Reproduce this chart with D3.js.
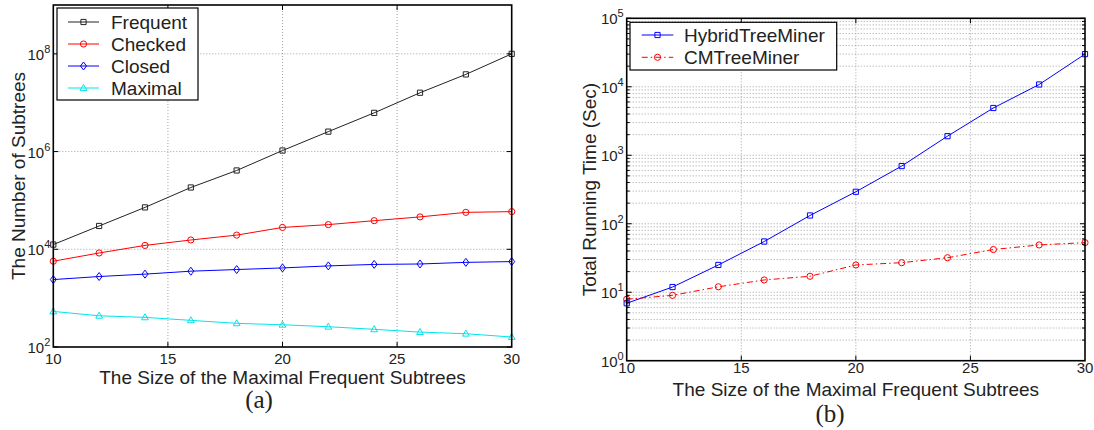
<!DOCTYPE html>
<html>
<head>
<meta charset="utf-8">
<script src="https://cdn.jsdelivr.net/npm/d3@7"></script>
<style>
  body { margin: 0; background: #fff; }
  svg { display: block; }
  text { font-family: "Liberation Sans", Arial, Helvetica, sans-serif; fill: #222; }
</style>
</head>
<body>
<svg id="fig" width="1094" height="430"></svg>
<script>
// Size of the maximal frequent subtrees (x axis of both panels)
const sizes = [10, 12, 14, 16, 18, 20, 22, 24, 26, 28, 30];

// Panel (a): number of subtrees
const frequent = [1.25e4, 3.0e4, 7.2e4, 1.84e5, 4.1e5, 1.05e6, 2.56e6, 6.2e6, 1.6e7, 3.8e7, 1.0e8];
const checked  = [5.7e3, 8.4e3, 1.2e4, 1.55e4, 1.95e4, 2.8e4, 3.2e4, 3.85e4, 4.6e4, 5.7e4, 5.9e4];
const closed   = [2.4e3, 2.77e3, 3.1e3, 3.56e3, 3.85e3, 4.15e3, 4.57e3, 4.9e3, 5.0e3, 5.4e3, 5.6e3];
const maximal  = [535, 435, 404, 351, 305, 285, 260, 230, 202, 187, 160];

// Panel (b): total running time in seconds
const hybridTreeMiner = [6.9, 11.9, 25, 55, 132, 293, 695, 1900, 4900, 10800, 30000];
const cmTreeMiner     = [7.9, 9.0, 12, 15.1, 17.1, 25, 27, 31.9, 42, 49, 53];

// Tick values
const xTicks = [10, 15, 20, 25, 30];
const yTicksA = [1e2, 1e4, 1e6, 1e8];
const yTicksB = [1e0, 1e1, 1e2, 1e3, 1e4, 1e5];

const svg = d3.select("#fig");

function symbolPath(kind) {
  if (kind === "square") return "M-2.6,-2.6H2.6V2.6H-2.6Z";
  if (kind === "circle") return d3.symbol(d3.symbolCircle, 30)();
  if (kind === "diamond") return "M0,-4L3,0L0,4L-3,0Z";
  if (kind === "triangle") return "M0,-3.6L3.4,2.4H-3.4Z";
  return "";
}

function drawPanel(cfg) {
  const g = svg.append("g");
  const x = d3.scaleLinear().domain([10, 30]).range([cfg.left, cfg.right]);
  const y = d3.scaleLog().domain(cfg.yDomain).range([cfg.bottom, cfg.top]);

  const grid = g.append("g")
    .attr("stroke", "#8a8a8a").attr("stroke-width", 0.8)
    .attr("stroke-dasharray", "1,2").attr("fill", "none");

  // minor horizontal grid (decade subdivisions)
  if (cfg.minor) {
    const minor = [];
    const [lo, hi] = cfg.yDomain;
    for (let d = lo; d < hi; d *= 10)
      for (let k = 2; k <= 9; k++) minor.push(d * k);
    grid.selectAll("line.mh").data(minor).join("line")
      .attr("x1", cfg.left).attr("x2", cfg.right)
      .attr("y1", d => y(d)).attr("y2", d => y(d));
  }
  grid.selectAll("line.h").data(cfg.yTicks.filter(v => v > cfg.yDomain[0] && v < cfg.yDomain[1])).join("line")
    .attr("x1", cfg.left).attr("x2", cfg.right)
    .attr("y1", d => y(d)).attr("y2", d => y(d));
  grid.selectAll("line.v").data(xTicks.slice(1, -1)).join("line")
    .attr("x1", d => x(d)).attr("x2", d => x(d))
    .attr("y1", cfg.top).attr("y2", cfg.bottom);

  // series
  cfg.series.forEach(s => {
    const pts = sizes.map((v, i) => [x(v), y(s.values[i])]);
    g.append("path")
      .attr("d", d3.line()(pts))
      .attr("fill", "none").attr("stroke", s.color).attr("stroke-width", 1)
      .attr("stroke-dasharray", s.dash || null);
    g.selectAll(null).data(pts).join("path")
      .attr("transform", d => `translate(${d[0]},${d[1]})`)
      .attr("d", symbolPath(s.marker))
      .attr("fill", "none").attr("stroke", s.color).attr("stroke-width", 1);
  });

  // ticks (inward, on all four sides)
  const ticks = g.append("g").attr("stroke", "#000").attr("stroke-width", 1);
  xTicks.slice(1, -1).forEach(v => {
    ticks.append("line").attr("x1", x(v)).attr("x2", x(v)).attr("y1", cfg.bottom).attr("y2", cfg.bottom - 5);
    ticks.append("line").attr("x1", x(v)).attr("x2", x(v)).attr("y1", cfg.top).attr("y2", cfg.top + 5);
  });
  cfg.yTicks.forEach(v => {
    ticks.append("line").attr("x1", cfg.left).attr("x2", cfg.left + 5).attr("y1", y(v)).attr("y2", y(v));
    ticks.append("line").attr("x1", cfg.right).attr("x2", cfg.right - 5).attr("y1", y(v)).attr("y2", y(v));
  });
  if (cfg.minor) {
    const [lo, hi] = cfg.yDomain;
    for (let d = lo; d < hi; d *= 10)
      for (let k = 2; k <= 9; k++) {
        const yy = y(d * k);
        ticks.append("line").attr("x1", cfg.left).attr("x2", cfg.left + 3).attr("y1", yy).attr("y2", yy);
        ticks.append("line").attr("x1", cfg.right).attr("x2", cfg.right - 3).attr("y1", yy).attr("y2", yy);
      }
  }

  // frame
  g.append("rect")
    .attr("x", cfg.left).attr("y", cfg.top)
    .attr("width", cfg.right - cfg.left).attr("height", cfg.bottom - cfg.top)
    .attr("fill", "none").attr("stroke", "#000").attr("stroke-width", 1.6);

  // x tick labels
  g.selectAll("text.xt").data(xTicks).join("text")
    .attr("x", d => x(d)).attr("y", cfg.bottom + cfg.xTickGap)
    .attr("text-anchor", "middle").attr("font-size", 15)
    .text(d => d);

  // y tick labels as 10 with superscript exponent
  cfg.yTicks.forEach(v => {
    const t = g.append("text")
      .attr("x", cfg.left - 3).attr("y", y(v) + 6)
      .attr("text-anchor", "end").attr("font-size", 15);
    t.append("tspan").text("10");
    t.append("tspan").attr("dy", -7).attr("font-size", 11).text(Math.round(Math.log10(v)));
  });

  // axis titles
  g.append("text")
    .attr("x", (cfg.left + cfg.right) / 2).attr("y", cfg.xLabelY)
    .attr("text-anchor", "middle").attr("font-size", 19)
    .text("The Size of the Maximal Frequent Subtrees");
  g.append("text")
    .attr("transform", `translate(${cfg.yLabelX},${(cfg.top + cfg.bottom) / 2}) rotate(-90)`)
    .attr("text-anchor", "middle").attr("font-size", 19)
    .text(cfg.yLabel);

  // panel caption
  g.append("text")
    .attr("x", cfg.captionX).attr("y", cfg.captionY)
    .attr("text-anchor", "middle").attr("font-size", 25)
    .style("font-family", '"Liberation Serif", "Times New Roman", serif')
    .text(cfg.caption);

  // legend
  const lg = g.append("g").attr("transform", `translate(${cfg.legend.x},${cfg.legend.y})`);
  lg.append("rect")
    .attr("width", cfg.legend.w).attr("height", cfg.legend.h)
    .attr("fill", "#fff").attr("stroke", "#000").attr("stroke-width", 1.2);
  cfg.series.forEach((s, i) => {
    const yy = cfg.legend.first + i * cfg.legend.step;
    lg.append("line")
      .attr("x1", cfg.legend.lineX0).attr("x2", cfg.legend.lineX1)
      .attr("y1", yy).attr("y2", yy)
      .attr("stroke", s.color).attr("stroke-width", 1).attr("stroke-dasharray", s.dash || null);
    lg.append("path")
      .attr("transform", `translate(${(cfg.legend.lineX0 + cfg.legend.lineX1) / 2},${yy})`)
      .attr("d", symbolPath(s.marker))
      .attr("fill", "none").attr("stroke", s.color).attr("stroke-width", 1);
    lg.append("text")
      .attr("x", cfg.legend.textX).attr("y", yy + 7)
      .attr("font-size", 19).text(s.name);
  });
}

drawPanel({
  left: 53.3, right: 511.7, top: 5, bottom: 347,
  yDomain: [1e2, 1e9], yTicks: yTicksA, minor: false,
  xTickGap: 17, xLabelY: 384, yLabelX: 25, yLabel: "The Number of Subtrees",
  caption: "(a)", captionX: 259, captionY: 408,
  series: [
    { name: "Frequent", values: frequent, color: "#222", marker: "square" },
    { name: "Checked",  values: checked,  color: "#ff0000", marker: "circle" },
    { name: "Closed",   values: closed,   color: "#0000ff", marker: "diamond" },
    { name: "Maximal",  values: maximal,  color: "#00e5ee", marker: "triangle" }
  ],
  legend: { x: 57, y: 8, w: 141, h: 92, first: 14, step: 22, lineX0: 11, lineX1: 42, textX: 54 }
});

drawPanel({
  left: 626.7, right: 1085, top: 18.3, bottom: 360.7,
  yDomain: [1e0, 1e5], yTicks: yTicksB, minor: true,
  xTickGap: 12, xLabelY: 396, yLabelX: 596, yLabel: "Total Running Time (Sec)",
  caption: "(b)", captionX: 830, captionY: 422,
  series: [
    { name: "HybridTreeMiner", values: hybridTreeMiner, color: "#0000ff", marker: "square" },
    { name: "CMTreeMiner",     values: cmTreeMiner,     color: "#ff0000", marker: "circle", dash: "6,3,1.5,3" }
  ],
  legend: { x: 630, y: 22.3, w: 206.7, h: 47.7, first: 12.7, step: 22.3, lineX0: 11.7, lineX1: 43.3, textX: 54 }
});
</script>
</body>
</html>
